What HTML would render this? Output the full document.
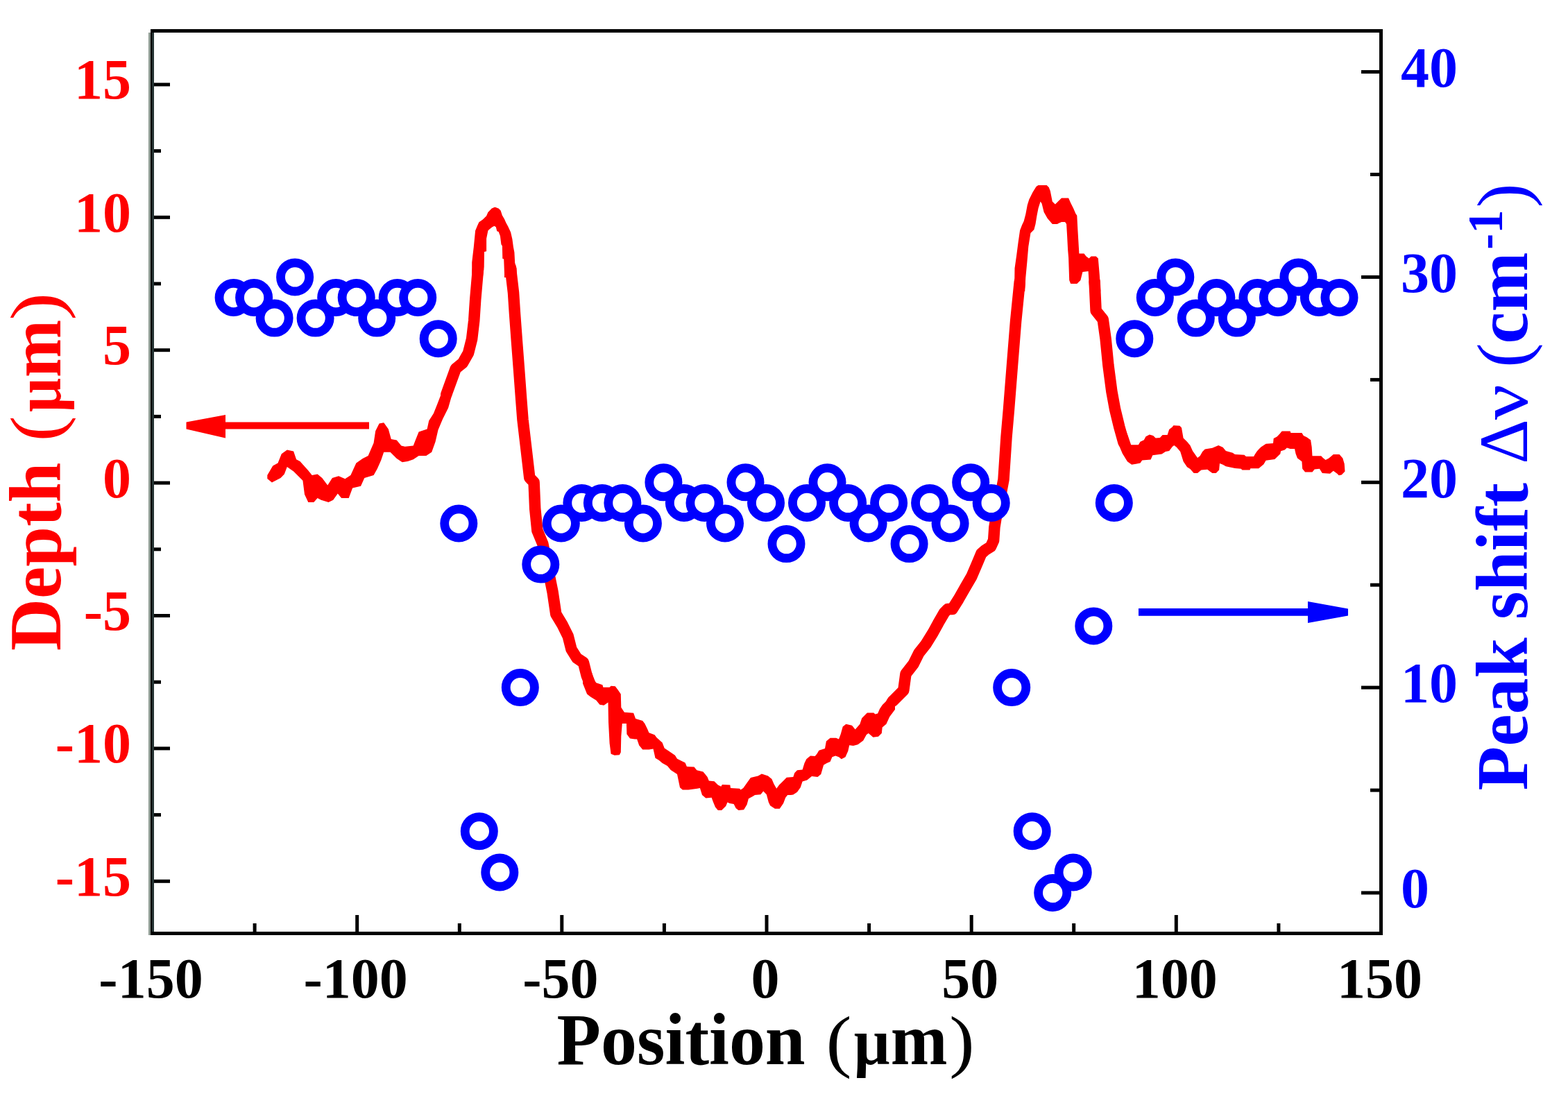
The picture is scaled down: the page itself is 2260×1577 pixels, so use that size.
<!DOCTYPE html>
<html><head><meta charset="utf-8"><title>Depth and peak shift vs position</title>
<style>
html,body{margin:0;padding:0;background:#fff;}
body{width:2260px;height:1577px;overflow:hidden;}
svg{display:block;}
text{font-family:"Liberation Serif","Times New Roman",serif;}
</style></head><body>
<svg width="2260" height="1577" viewBox="0 0 2260 1577">
<rect x="0" y="0" width="2260" height="1577" fill="#fff"/>

<g id="frame">
<rect x="214" y="47" width="3" height="1301" fill="#8e9a92"/>
<rect x="217" y="42" width="2" height="1306" fill="#000"/>
<rect x="219" y="47" width="3" height="1296" fill="#263434"/>
<rect x="217" y="42" width="1776" height="5" fill="#000"/>
<rect x="1988" y="42" width="5" height="1306" fill="#000"/>
<rect x="217" y="1343" width="1776" height="5" fill="#000"/>
</g>
<g id="ticks" fill="#000">
<rect x="222" y="119.4" width="23" height="5"/>
<rect x="222" y="310.8" width="23" height="5"/>
<rect x="222" y="502.2" width="23" height="5"/>
<rect x="222" y="693.6" width="23" height="5"/>
<rect x="222" y="885.0" width="23" height="5"/>
<rect x="222" y="1076.4" width="23" height="5"/>
<rect x="222" y="1267.8" width="23" height="5"/>
<rect x="222" y="215.1" width="10" height="5"/>
<rect x="222" y="406.5" width="10" height="5"/>
<rect x="222" y="597.9" width="10" height="5"/>
<rect x="222" y="789.3" width="10" height="5"/>
<rect x="222" y="980.7" width="10" height="5"/>
<rect x="222" y="1172.1" width="10" height="5"/>
<rect x="1962" y="101.1" width="26" height="5"/>
<rect x="1962" y="396.9" width="26" height="5"/>
<rect x="1962" y="692.8" width="26" height="5"/>
<rect x="1962" y="988.6" width="26" height="5"/>
<rect x="1962" y="1284.5" width="26" height="5"/>
<rect x="1975" y="249.0" width="13" height="5"/>
<rect x="1975" y="544.9" width="13" height="5"/>
<rect x="1975" y="840.7" width="13" height="5"/>
<rect x="1975" y="1136.6" width="13" height="5"/>
<rect x="512.2" y="1319" width="5" height="24"/>
<rect x="807.3" y="1319" width="5" height="24"/>
<rect x="1102.5" y="1319" width="5" height="24"/>
<rect x="1397.7" y="1319" width="5" height="24"/>
<rect x="1692.8" y="1319" width="5" height="24"/>
<rect x="364.6" y="1331" width="5" height="12"/>
<rect x="659.8" y="1331" width="5" height="12"/>
<rect x="954.9" y="1331" width="5" height="12"/>
<rect x="1250.1" y="1331" width="5" height="12"/>
<rect x="1545.2" y="1331" width="5" height="12"/>
<rect x="1840.4" y="1331" width="5" height="12"/>
</g>
<g fill="#ff0000" font-size="82" font-weight="bold" text-anchor="end">
<text x="189" y="142.4">15</text>
<text x="189" y="333.8">10</text>
<text x="189" y="525.2">5</text>
<text x="189" y="716.6">0</text>
<text x="189" y="908.0">-5</text>
<text x="189" y="1099.4">-10</text>
<text x="189" y="1290.8">-15</text>
</g>
<g fill="#0000ff" font-size="82" font-weight="bold">
<text x="2019" y="124.8">40</text>
<text x="2019" y="420.6">30</text>
<text x="2019" y="716.5">20</text>
<text x="2019" y="1012.4">10</text>
<text x="2019" y="1308.2">0</text>
</g>
<g fill="#000" font-size="82" font-weight="bold" text-anchor="middle">
<text x="217.5" y="1437.5">-150</text>
<text x="512.7" y="1437.5">-100</text>
<text x="807.8" y="1437.5">-50</text>
<text x="1103.0" y="1437.5">0</text>
<text x="1398.2" y="1437.5">50</text>
<text x="1693.3" y="1437.5">100</text>
<text x="1988.5" y="1437.5">150</text>
</g>
<g style="font-kerning:none;white-space:pre">
<text transform="translate(802.62,1533.60) scale(0.9899,1)" font-size="105" font-weight="bold" fill="#000">Position </text>
<text transform="translate(1190.42,1533.60) scale(1.1097,1)" font-size="100" font-weight="normal" fill="#000">(</text>
<text transform="translate(1230.74,1533.60) scale(0.9503,1)" font-size="96" font-weight="bold" fill="#000">μ</text>
<text transform="translate(1283.67,1533.60) scale(0.9342,1)" font-size="105" font-weight="bold" fill="#000">m</text>
<text transform="translate(1368.29,1533.60) scale(1.0902,1)" font-size="100" font-weight="normal" fill="#000">)</text>
<text transform="translate(86.50,938.03) rotate(-90) scale(0.9902,1)" font-size="105" font-weight="bold" fill="#ff0000">Depth </text>
<text transform="translate(86.50,636.16) rotate(-90) scale(1.0632,1)" font-size="104" font-weight="normal" fill="#ff0000">(</text>
<text transform="translate(86.50,594.10) rotate(-90) scale(0.9041,1)" font-size="96" font-weight="bold" fill="#ff0000">μ</text>
<text transform="translate(86.50,544.29) rotate(-90) scale(0.9535,1)" font-size="105" font-weight="bold" fill="#ff0000">m</text>
<text transform="translate(86.50,462.10) rotate(-90) scale(1.1643,1)" font-size="104" font-weight="normal" fill="#ff0000">)</text>
<text transform="translate(2201.00,1139.48) rotate(-90) scale(0.9939,1)" font-size="105" font-weight="bold" fill="#0000ff">Peak shift </text>
<text transform="translate(2201.00,668.83) rotate(-90) scale(1.0046,1)" font-size="100" font-weight="normal" fill="#0000ff">Δ</text>
<text transform="translate(2201.00,605.28) rotate(-90) scale(1.1422,1)" font-size="99" font-weight="normal" fill="#0000ff">ν </text>
<text transform="translate(2201.00,530.12) rotate(-90) scale(1.0333,1)" font-size="104" font-weight="normal" fill="#0000ff">(</text>
<text transform="translate(2201.00,495.43) rotate(-90) scale(0.9830,1)" font-size="105" font-weight="bold" fill="#0000ff">cm</text>
<text transform="translate(2164.80,359.72) rotate(-90) scale(0.9550,1)" font-size="72" font-weight="bold" fill="#0000ff">-1</text>
<text transform="translate(2201.00,299.61) rotate(-90) scale(1.0183,1)" font-size="104" font-weight="normal" fill="#0000ff">)</text>
</g>
<path d="M325,608.5 H532 V618.5 H325 V631.5 L268.5,618.5 V608.5 L325,598 Z" fill="#ff0000"/>
<path d="M1641,877 H1885 V867 L1943,877.5 V887.5 L1885,898 V887.7 H1641 Z" fill="#0000ff"/>
<polyline fill="none" stroke="#ff0000" stroke-width="16.5" stroke-linejoin="round" stroke-linecap="round" points="643.3,568.5 648.7,553.7 656.8,531.4 666.9,523.3 675.0,509.0 680.1,488.8 683.2,462.4 685.2,432.0 689.0,388.0"/>
<polyline fill="none" stroke="#ff0000" stroke-width="16.5" stroke-linejoin="round" stroke-linecap="round" points="735.8,386.0 740.0,421.8 742.0,452.3 745.0,492.8 748.1,533.4 751.1,574.0 753.5,605.0 758.5,647.5 763.3,688.7 769.6,695.1 771.2,733.1 774.4,764.8 782.3,783.8 790.2,821.9 796.6,853.6 801.3,885.3 810.8,901.1 818.7,917.0 823.5,936.0 831.4,948.7 840.9,955.0 845.7,974.0 852.0,989.9"/>
<polyline fill="none" stroke="#ff0000" stroke-width="16.5" stroke-linejoin="round" stroke-linecap="round" points="1286.5,1011.0 1302.3,995.1 1305.5,971.3 1316.6,957.1 1324.4,941.3 1334.5,928.6 1344.7,912.1 1352.3,898.2 1361.1,883.0 1366.0,878.0 1372.6,878.0 1381.4,864.0 1391.6,846.2 1400.4,831.0 1408.0,813.2 1414.4,798.0 1420.0,793.0 1428.0,788.0 1432.1,779.0 1433.4,760.0 1435.3,748.1 1441.0,720.0 1446.5,691.3 1448.5,660.9 1450.5,630.4 1454.0,590.0 1459.0,526.5 1464.1,463.0 1469.8,406.0"/>
<polyline fill="none" stroke="#ff0000" stroke-width="16.5" stroke-linejoin="round" stroke-linecap="round" points="1577.6,406.0 1579.6,447.8 1589.7,460.5 1593.6,488.4 1597.4,526.5 1602.4,564.6 1607.1,590.0 1613.3,615.5 1619.5,637.7"/>
<polygon fill="#ff0000" points="385.3,684.9 393.2,671.6 400.5,667.6 405.8,654.3 413.8,648.4 423.1,650.4 427.1,662.3 432.4,665.0 444.3,678.2 449.7,684.9 457.6,683.5 464.3,688.9 472.2,699.5 478.9,688.9 488.1,686.2 497.4,690.2 505.4,684.9 513.4,667.6 522.7,661.0 530.6,657.0 538.6,638.4 541.2,621.2 546.6,610.5 553.2,609.2 559.8,618.5 563.8,633.1 571.8,634.4 578.4,642.4 583.7,643.7 595.7,642.4 598.3,635.8 603.6,622.5 615.6,618.5 618.2,606.5 624.9,595.9 630.2,582.7 635.5,569.0 651.5,569.0 646.1,588.0 638.1,603.9 631.5,619.8 627.5,637.1 622.2,651.7 614.3,657.0 603.6,657.0 595.7,662.3 587.7,665.0 579.7,666.3 571.8,661.0 562.5,651.7 553.2,651.7 549.2,663.6 543.9,675.6 538.6,684.9 525.3,688.9 520.0,700.8 508.1,703.5 502.7,718.0 492.1,718.0 486.8,711.4 480.2,720.7 473.5,724.0 462.9,720.7 457.6,718.0 452.3,724.0 444.3,724.0 439.0,712.7 436.4,692.8 423.1,679.6 413.8,672.9 409.8,683.5 404.5,688.9 391.9,695.5 385.3,690.0"/>
<polygon fill="#ff0000" points="840.0,968.0 853.2,970.0 856.2,980.1 859.3,984.2 868.4,987.2 869.4,990.8 878.6,990.8 880.6,988.8 886.7,989.3 890.7,994.4 894.8,1000.4 895.3,1019.7 899.9,1026.8 913.1,1027.8 916.1,1035.9 926.2,1039.0 929.3,1043.1 933.3,1051.2 935.4,1056.2 943.5,1059.3 946.5,1063.3 954.6,1070.4 957.7,1078.6 963.8,1082.6 972.9,1088.7 976.0,1093.8 980.0,1095.8 987.6,1099.6 989.9,1104.9 993.7,1105.3 1000.5,1105.6 1004.3,1110.2 1013.5,1112.5 1019.6,1120.1 1021.8,1125.4 1029.5,1126.2 1034.8,1131.5 1039.3,1133.8 1040.9,1131.1 1052.3,1131.5 1053.0,1136.1 1066.0,1136.8 1067.5,1138.4 1071.3,1136.1 1076.6,1128.5 1082.0,1120.9 1092.6,1118.6 1097.9,1115.5 1107.0,1118.6 1112.4,1123.1 1115.4,1130.0 1119.2,1136.8 1123.0,1131.5 1129.1,1125.4 1133.8,1120.8 1143.3,1119.9 1145.2,1114.2 1149.0,1110.3 1156.6,1109.4 1159.5,1099.9 1162.3,1094.2 1168.0,1089.4 1174.7,1089.9 1177.6,1086.6 1180.4,1081.8 1189.0,1079.0 1190.9,1068.5 1196.6,1063.7 1205.1,1063.7 1209.0,1065.6 1211.8,1058.0 1214.7,1047.6 1219.4,1043.8 1228.0,1045.7 1232.7,1051.4 1239.4,1043.8 1242.2,1035.2 1249.9,1027.6 1259.4,1027.6 1261.3,1029.5 1265.1,1028.5 1267.9,1021.9 1271.7,1016.2 1276.5,1011.4 1280.3,1005.7 1286.0,1001.0 1290.0,999.0 1290.0,1022.8 1282.2,1033.3 1277.4,1043.8 1271.7,1048.5 1270.8,1057.1 1266.0,1061.8 1258.4,1062.8 1251.8,1057.1 1248.9,1059.0 1244.2,1067.5 1236.5,1073.2 1229.9,1075.1 1224.2,1074.2 1222.3,1082.8 1218.5,1091.3 1212.8,1094.2 1209.0,1091.3 1204.2,1089.4 1199.4,1091.3 1196.6,1098.0 1191.8,1099.9 1187.1,1102.7 1183.3,1116.1 1178.5,1119.9 1170.0,1118.9 1163.3,1124.6 1156.6,1126.5 1153.8,1135.1 1149.0,1141.7 1143.3,1145.5 1140.0,1146.0 1135.2,1146.0 1132.2,1149.8 1129.1,1158.1 1123.8,1165.8 1116.9,1165.8 1110.1,1161.2 1107.8,1156.6 1104.8,1145.2 1100.2,1140.6 1096.4,1145.2 1088.0,1146.0 1085.8,1147.5 1078.9,1151.3 1076.6,1159.7 1072.1,1167.3 1064.4,1168.0 1060.6,1165.0 1057.6,1158.9 1051.5,1158.1 1048.5,1156.6 1046.2,1162.0 1040.1,1168.0 1034.8,1168.0 1031.0,1163.5 1027.9,1155.9 1025.6,1149.8 1017.3,1150.5 1012.0,1146.0 1008.9,1136.1 1005.1,1136.8 992.2,1138.4 983.8,1138.4 980.0,1135.3 976.0,1116.1 966.8,1110.0 961.8,1103.9 954.6,1099.9 949.6,1095.8 944.5,1092.8 941.5,1079.6 935.4,1080.6 926.2,1080.6 921.2,1074.5 918.1,1065.4 915.1,1065.4 908.0,1064.4 903.4,1058.3 902.9,1043.1 896.8,1043.1 895.3,1061.3 894.8,1084.6 892.8,1088.2 885.7,1088.7 880.6,1086.7 878.6,1071.5 877.0,1041.0 876.5,1012.6 870.4,1016.7 864.4,1015.7 859.3,1009.6 851.2,1004.5 846.1,1000.4 840.0,985.2"/>
<polygon fill="#ff0000" points="1618.0,610.0 1622.2,619.0 1625.7,628.0 1630.2,641.3 1640.8,641.3 1643.5,636.8 1648.8,634.2 1651.5,629.3 1656.8,626.6 1662.1,628.0 1665.7,631.5 1671.9,631.0 1675.5,627.0 1682.6,627.0 1685.2,619.0 1689.7,615.5 1691.4,613.3 1700.3,613.7 1703.0,616.4 1705.6,631.5 1711.0,636.8 1715.4,642.1 1719.0,650.1 1726.0,659.9 1729.6,657.2 1733.2,651.0 1736.7,647.5 1747.4,645.7 1756.2,642.1 1762.5,644.8 1766.9,650.1 1776.7,652.8 1780.0,655.0 1793.5,655.7 1795.9,658.1 1807.1,658.1 1808.7,655.0 1811.9,650.2 1814.2,647.8 1817.4,644.6 1824.6,639.8 1835.0,639.0 1835.7,631.9 1840.5,629.5 1843.7,626.3 1847.7,621.5 1859.6,621.5 1860.4,623.9 1876.4,623.9 1878.8,627.9 1883.5,630.3 1889.1,634.2 1890.7,644.6 1891.5,657.3 1904.2,657.3 1907.4,660.5 1910.6,662.9 1915.4,660.5 1921.8,655.0 1930.5,655.0 1935.3,660.5 1937.7,668.5 1938.5,679.6 1938.5,679.6 1933.7,684.4 1929.7,685.2 1927.3,682.8 1921.8,678.8 1917.0,682.8 1905.8,682.0 1901.9,675.7 1894.7,676.5 1891.5,680.4 1881.1,680.4 1877.2,675.7 1876.4,665.3 1870.0,660.5 1867.6,654.2 1866.0,647.0 1859.6,647.0 1854.9,645.4 1851.7,648.6 1846.1,650.2 1845.3,654.2 1837.3,662.1 1824.6,663.7 1821.4,669.3 1814.2,675.3 1802.3,675.3 1801.5,677.6 1790.4,677.6 1788.8,675.7 1780.0,674.9 1766.9,672.3 1762.5,669.7 1758.0,667.9 1757.1,677.6 1752.7,682.1 1747.4,682.1 1743.8,679.4 1740.3,676.8 1731.4,677.6 1726.0,682.1 1720.7,682.1 1715.4,675.9 1711.0,673.2 1705.6,665.2 1701.2,651.0 1695.9,644.8 1692.3,642.1 1689.7,643.9 1685.2,650.1 1679.9,651.0 1674.6,654.6 1661.3,656.3 1658.6,662.6 1646.2,663.4 1643.5,667.4 1637.3,668.8 1631.1,669.7 1624.9,665.2 1617.8,653.7 1612.0,640.0"/>
<polygon fill="#ff0000" points="680.2,400.0 680.2,378.2 682.8,356.1 685.1,332.5 688.2,324.9 690.4,320.3 695.8,316.5 701.1,311.2 703.4,305.9 708.7,300.5 713.3,298.6 718.6,300.5 721.6,303.6 723.9,310.4 727.0,315.8 729.3,321.1 732.3,326.4 736.1,334.8 738.4,344.7 739.9,356.1 741.4,363.7 742.2,378.9 744.5,386.5 744.9,400.0 727.0,400.0 727.0,394.2 726.2,373.6 724.3,372.8 723.9,354.6 722.4,352.3 720.9,340.1 718.6,334.0 716.3,333.3 714.8,327.2 712.5,325.7 709.5,327.2 705.7,330.2 703.4,332.5 701.1,343.9 701.1,362.2 698.0,363.0 697.7,385.0 695.8,400.0"/>
<polygon fill="#ff0000" points="1462.0,420.0 1462.5,386.8 1465.1,368.6 1467.6,349.3 1470.1,332.0 1473.2,323.9 1475.7,318.8 1478.3,308.7 1480.8,295.5 1483.3,287.4 1488.4,277.2 1493.5,269.1 1496.5,267.1 1508.7,267.1 1511.7,270.1 1513.8,275.2 1516.8,290.4 1520.9,294.5 1524.9,290.4 1530.0,285.4 1540.1,285.4 1543.2,292.5 1547.2,300.6 1550.3,307.7 1552.3,310.7 1553.3,330.0 1555.4,365.5 1562.5,365.5 1565.5,369.6 1569.6,372.6 1572.6,369.6 1579.7,369.6 1582.8,372.6 1584.8,395.9 1586.3,420.0 1570.6,420.0 1569.6,407.1 1568.6,390.9 1560.4,391.9 1557.4,404.1 1552.3,409.1 1543.2,409.1 1541.2,404.1 1540.1,371.6 1539.1,359.4 1538.1,340.1 1537.1,322.9 1535.1,319.9 1530.0,319.9 1523.9,322.9 1516.8,322.9 1509.7,314.8 1504.6,305.7 1501.6,293.5 1499.6,290.4 1496.5,300.6 1494.5,310.7 1492.5,322.9 1490.4,331.0 1485.4,336.1 1482.3,355.4 1480.3,378.7 1478.3,400.0 1477.2,420.0"/>
<g fill="#fff" stroke="#0000ff" stroke-width="12.8">
<circle cx="336.6" cy="429.0" r="20.6"/>
<circle cx="366.1" cy="429.0" r="20.6"/>
<circle cx="395.6" cy="458.6" r="20.6"/>
<circle cx="425.1" cy="399.4" r="20.6"/>
<circle cx="454.6" cy="458.6" r="20.6"/>
<circle cx="484.2" cy="429.0" r="20.6"/>
<circle cx="513.7" cy="429.0" r="20.6"/>
<circle cx="543.2" cy="458.6" r="20.6"/>
<circle cx="572.7" cy="429.0" r="20.6"/>
<circle cx="602.2" cy="429.0" r="20.6"/>
<circle cx="631.7" cy="488.2" r="20.6"/>
<circle cx="661.3" cy="754.5" r="20.6"/>
<circle cx="690.8" cy="1198.2" r="20.6"/>
<circle cx="720.3" cy="1257.4" r="20.6"/>
<circle cx="749.8" cy="991.1" r="20.6"/>
<circle cx="779.3" cy="813.6" r="20.6"/>
<circle cx="808.8" cy="754.5" r="20.6"/>
<circle cx="838.4" cy="724.9" r="20.6"/>
<circle cx="867.9" cy="724.9" r="20.6"/>
<circle cx="897.4" cy="724.9" r="20.6"/>
<circle cx="926.9" cy="754.5" r="20.6"/>
<circle cx="956.4" cy="695.3" r="20.6"/>
<circle cx="985.9" cy="724.9" r="20.6"/>
<circle cx="1015.5" cy="724.9" r="20.6"/>
<circle cx="1045.0" cy="754.5" r="20.6"/>
<circle cx="1074.5" cy="695.3" r="20.6"/>
<circle cx="1104.0" cy="724.9" r="20.6"/>
<circle cx="1133.5" cy="784.1" r="20.6"/>
<circle cx="1163.0" cy="724.9" r="20.6"/>
<circle cx="1192.5" cy="695.3" r="20.6"/>
<circle cx="1222.1" cy="724.9" r="20.6"/>
<circle cx="1251.6" cy="754.5" r="20.6"/>
<circle cx="1281.1" cy="724.9" r="20.6"/>
<circle cx="1310.6" cy="784.1" r="20.6"/>
<circle cx="1340.1" cy="724.9" r="20.6"/>
<circle cx="1369.6" cy="754.5" r="20.6"/>
<circle cx="1399.2" cy="695.3" r="20.6"/>
<circle cx="1428.7" cy="724.9" r="20.6"/>
<circle cx="1458.2" cy="991.1" r="20.6"/>
<circle cx="1487.7" cy="1198.2" r="20.6"/>
<circle cx="1517.2" cy="1287.0" r="20.6"/>
<circle cx="1546.7" cy="1257.4" r="20.6"/>
<circle cx="1576.3" cy="902.4" r="20.6"/>
<circle cx="1605.8" cy="724.9" r="20.6"/>
<circle cx="1635.3" cy="488.2" r="20.6"/>
<circle cx="1664.8" cy="429.0" r="20.6"/>
<circle cx="1694.3" cy="399.4" r="20.6"/>
<circle cx="1723.8" cy="458.6" r="20.6"/>
<circle cx="1753.4" cy="429.0" r="20.6"/>
<circle cx="1782.9" cy="458.6" r="20.6"/>
<circle cx="1812.4" cy="429.0" r="20.6"/>
<circle cx="1841.9" cy="429.0" r="20.6"/>
<circle cx="1871.4" cy="399.4" r="20.6"/>
<circle cx="1900.9" cy="429.0" r="20.6"/>
<circle cx="1930.5" cy="429.0" r="20.6"/>
</g>
</svg>
</body></html>
